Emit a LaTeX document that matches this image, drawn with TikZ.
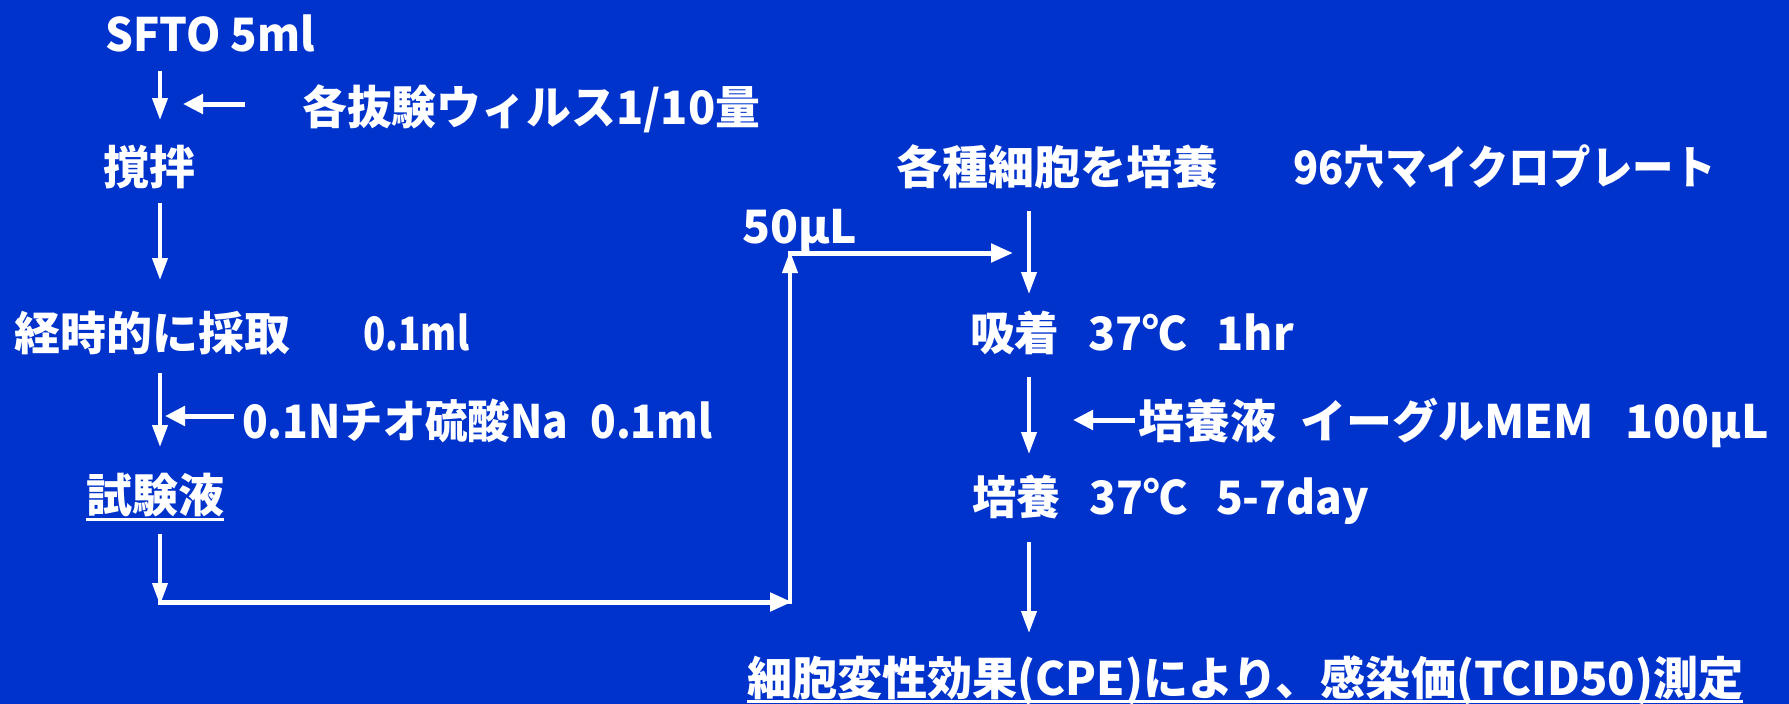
\documentclass[tikz,border=0pt]{standalone}
\usepackage{fontspec}
\setmainfont{Noto Sans CJK JP}
\usetikzlibrary{arrows.meta}
\definecolor{bgblue}{RGB}{0,51,204}
\newcommand\hsq[2]{\scalebox{#1}[1]{#2}}
\begin{document}
\begin{tikzpicture}[x=1pt,y=-1pt,
  txt/.style={text=white, font=\fontsize{46}{50}\selectfont\bfseries, inner sep=0pt, anchor=base west},
  arr/.style={draw=white, line width=4pt, -{Triangle[length=22pt,width=15pt]}},
  harr/.style={draw=white, line width=5pt, -{Triangle[length=22pt,width=18pt]}},
  larr/.style={draw=white, line width=5pt, -{Triangle[length=20pt,width=19pt]}},
  uline/.style={draw=white, line width=3pt}]
\fill[bgblue] (0,0) rectangle (1789,704);
\useasboundingbox (0,0) rectangle (1789,704);

% left column texts
\node[txt] (sfto) at (105,51) {\hsq{0.95}{SFTO 5ml}};
\node[txt] (virus) at (302,124) {\hsq{0.975}{各抜験ウィルス1/10量}};
\node[txt] (mix) at (103,184) {撹拌};
\node[txt] (take) at (14,350) {経時的に採取};
\node[txt] (take2) at (363,350) {\hsq{0.8}{0.1ml}};
\node[txt] (thio) at (242,438) {\hsq{0.92}{0.1Nチオ硫酸Na\hspace{24pt}0.1ml}};
\node[txt] (test) at (86,512) {試験液};
\draw[uline] ([yshift=-7pt]test.base west) -- ([yshift=-7pt]test.base east);

% right column texts
\node[txt] (ul) at (742,243) {50μL};
\node[txt] (cells) at (896,184) {各種細胞を培養};
\node[txt] (plate) at (1293,184) {\hsq{0.9}{96穴マイクロプレート}};
\node[txt] (adsorb) at (970,350) {\hsq{0.97}{吸着\hspace{30pt}37℃\hspace{30pt}1hr}};
\node[txt] (medium) at (1138,438) {培養液\hspace{24pt}イーグルMEM\hspace{32pt}100μL};
\node[txt] (culture) at (972,514) {\hsq{0.96}{培養\hspace{30pt}37℃\hspace{30pt}5-7day}};
\node[txt] (result) at (747,695) {\hsq{0.98}{細胞変性効果(CPE)により、感染価(TCID50)測定}};
\draw[uline] ([yshift=-6pt]result.base west) -- ([yshift=-6pt]result.base east);

% connector end points
\coordinate (a1s) at (160,71);   \coordinate (a1e) at (160,120);
\coordinate (l1s) at (245,104);  \coordinate (l1e) at (183,104);
\coordinate (a2s) at (160,203);  \coordinate (a2e) at (160,280);
\coordinate (a3s) at (160,373);  \coordinate (a3e) at (160,447);
\coordinate (l2s) at (234,416);  \coordinate (l2e) at (165,416);
\coordinate (a4s) at (160,534);  \coordinate (a4e) at (160,605);
\coordinate (h1s) at (158,602);  \coordinate (h1e) at (792,602);
\coordinate (v1s) at (790,604);  \coordinate (v1e) at (790,251);
\coordinate (h2s) at (788,253);  \coordinate (h2e) at (1013,253);
\coordinate (a5s) at (1029,211); \coordinate (a5e) at (1029,294);
\coordinate (a6s) at (1029,377); \coordinate (a6e) at (1029,454);
\coordinate (l3s) at (1135,420); \coordinate (l3e) at (1073,420);
\coordinate (a7s) at (1029,542); \coordinate (a7e) at (1029,633);

\draw[arr] (a1s) -- (a1e);
\draw[larr] (l1s) -- (l1e);
\draw[arr] (a2s) -- (a2e);
\draw[arr] (a3s) -- (a3e);
\draw[larr] (l2s) -- (l2e);
\draw[arr] (a4s) -- (a4e);
\draw[harr] (h1s) -- (h1e);
\draw[arr] (v1s) -- (v1e);
\draw[harr] (h2s) -- (h2e);
\draw[arr] (a5s) -- (a5e);
\draw[arr] (a6s) -- (a6e);
\draw[larr] (l3s) -- (l3e);
\draw[arr] (a7s) -- (a7e);
\end{tikzpicture}
\end{document}
